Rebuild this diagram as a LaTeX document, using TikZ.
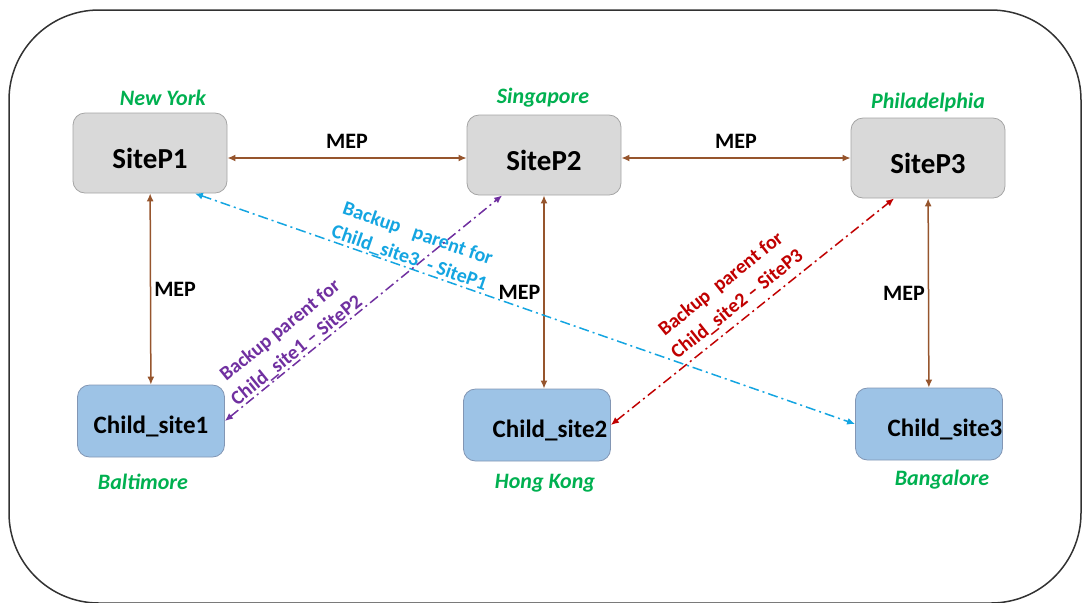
\documentclass[tikz,border=0pt]{standalone}
\usepackage{fontspec}
\setmainfont{Carlito}
\usetikzlibrary{arrows.meta,positioning}
\definecolor{boxgray}{RGB}{217,217,217}
\definecolor{sitedraw}{RGB}{165,165,165}
\definecolor{childfill}{RGB}{157,195,230}
\definecolor{childdraw}{RGB}{130,150,180}
\definecolor{citygreen}{RGB}{0,176,80}
\definecolor{linkbrown}{RGB}{150,85,45}
\definecolor{cyanline}{RGB}{20,165,225}
\definecolor{purpleline}{RGB}{112,48,160}
\definecolor{redline}{RGB}{192,0,0}
\definecolor{framegray}{RGB}{50,50,50}

\begin{document}
\begin{tikzpicture}[x=0.5pt,y=-0.5pt,>={Latex[length=4pt,width=3.5pt]},
 site/.style={draw=sitedraw,fill=boxgray,rounded corners=6pt,minimum width=77pt,minimum height=40pt,text height=15pt,text depth=0pt,font=\fontsize{14.5}{17}\selectfont\bfseries},
 child/.style={draw=childdraw,fill=childfill,rounded corners=6pt,minimum width=73.5pt,minimum height=36pt,inner xsep=0pt,text height=12pt,text depth=0pt,font=\fontsize{12.5}{15}\selectfont\bfseries},
 city/.style={text=citygreen,font=\fontsize{11}{13}\selectfont\bfseries\itshape},
 mep/.style={font=\fontsize{11}{13}\selectfont\bfseries,inner sep=1.5pt},
 link/.style={<->,draw=linkbrown,line width=0.75pt},
 backup/.style={<->,line width=0.75pt,dash pattern=on 5pt off 2pt on 1pt off 2pt},
 note/.style={sloped,align=center,inner sep=0pt,font=\fontsize{10}{13}\selectfont\bfseries}]
\useasboundingbox (0,0) rectangle (1083,602);
\draw[line width=0.75pt,rounded corners=45pt,draw=framegray] (9,10) rectangle (1081,603);
\node[site] (p1) at (150,153) {SiteP1};
\node[site] (p2) at (544,155) {SiteP2};
\node[site] (p3) at (928,158) {SiteP3};
\node[child] (c1) at (151,421) {Child\_site1};
\node[child] (c2) at (537,425) {\hspace*{13pt}Child\_site2};
\node[child] (c3) at (929,424) {\hspace*{16pt}Child\_site3};
\node[city] (ny) at (163,98) {New York};
\node[city] (sg) at (543,98) {Singapore};
\node[city] (ph) at (928,103) {Philadelphia};
\node[city] (bal) at (143,482) {Baltimore};
\node[city] (hk) at (545,483) {Hong Kong};
\node[city] (blr) at (942,480) {Bangalore};
\draw[link] ([yshift=-2.5pt]p1.east)--node[mep,above=3pt] {MEP}([yshift=-1.5pt]p2.west);
\draw[link] ([yshift=-1.5pt]p2.east)--node[mep,above=3pt] {MEP}(p3.west);
\draw[link] (p1)--node[mep,right] {MEP}(c1);
\draw[link] (p2.south)--node[mep,left] {MEP}(p2.south |- c2.north);
\draw[link] (p3)--node[mep,left] {MEP}(c3);
\draw[backup,draw=cyanline] (p1.-42)--node[note,text=cyanline,pos=0.32,above] {Backup~~~parent for\\Child\_site3~~-~SiteP1}(c3.west);
\draw[backup,draw=purpleline] (c1.east)--node[note,text=purpleline,pos=0.28,above] {Backup parent for\\Child\_site1 – SiteP2}(p2.224);
\draw[backup,draw=redline] (c2.east)--node[note,text=redline,pos=0.48,above=3pt] {Backup~~parent for\\Child\_site2 – SiteP3}(p3.230);
\end{tikzpicture}
\end{document}
